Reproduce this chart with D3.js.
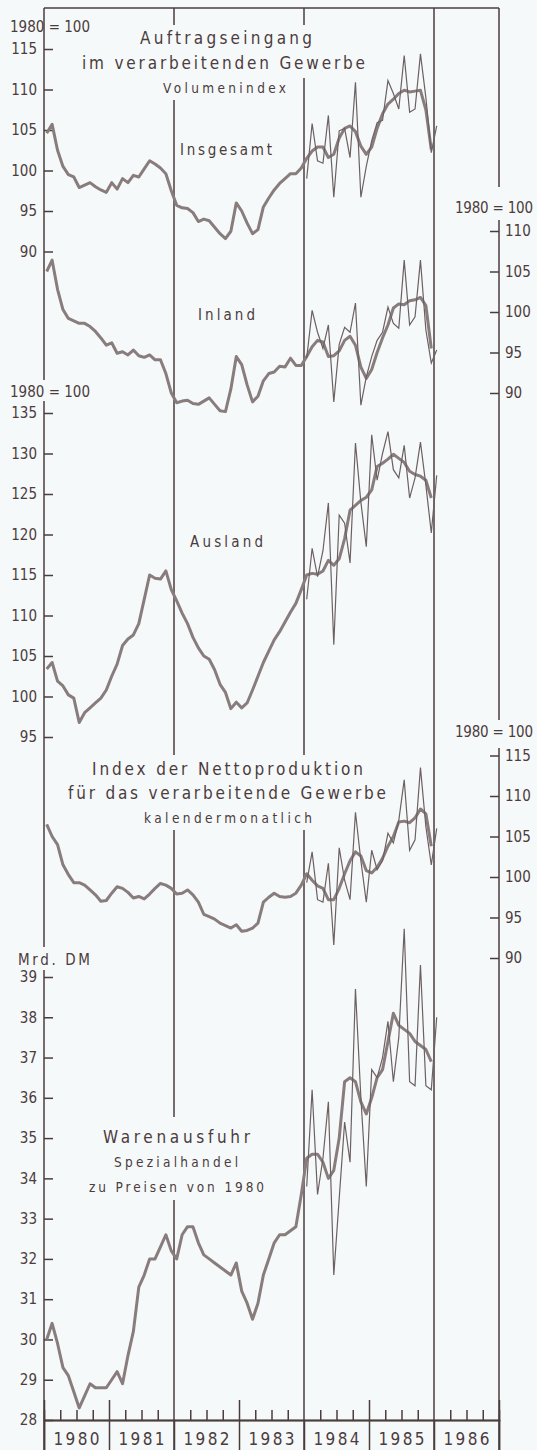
<!DOCTYPE html>
<html>
<head>
<meta charset="utf-8">
<script src="https://cdn.jsdelivr.net/npm/d3@7"></script>
<style>
  body { margin: 0; background: #f6f9f9; }
  svg { display: block; font-family: "DejaVu Sans Condensed", "DejaVu Sans", sans-serif; }
</style>
</head>
<body>
<svg id="chart" width="537" height="1450"></svg>
<script>
// Monthly values Jan 1980 - Dec 1985 (thick line) and Jan 1984 - Jan 1986 (thin line)
const years = [1980, 1981, 1982, 1983, 1984, 1985, 1986];

const insgesamt = [
  104.6, 105.7, 102.5, 100.5, 99.5, 99.2, 97.9, 98.2, 98.5, 98.0, 97.6, 97.3,
  98.5, 97.7, 99.0, 98.5, 99.4, 99.2, 100.2, 101.2, 100.8, 100.3, 99.6, 97.5,
  95.7, 95.4, 95.3, 94.8, 93.7, 94.0, 93.8, 93.0, 92.2, 91.6, 92.5, 96.0,
  95.0, 93.5, 92.2, 92.7, 95.5, 96.6, 97.6, 98.4, 99.0, 99.6, 99.6, 100.3,
  101.5, 102.4, 102.9, 102.9, 101.6, 102.0, 104.0, 105.2, 105.5, 104.8, 103.0, 102.0,
  102.9, 105.2, 107.0, 108.2, 108.8, 109.5, 109.9, 109.7, 109.8, 109.9, 107.5, 102.6
];
const insgesamtMonat = [
  99.0, 105.8, 101.2, 100.9, 106.8, 96.7, 104.9, 105.2, 101.6, 110.9, 96.7, 100.5,
  103.7, 105.9, 106.2, 111.1, 109.5, 107.6, 114.2, 107.2, 107.6, 114.4, 109.0, 102.2, 105.5
];

const inland = [
  105.0, 106.4, 102.8, 100.3, 99.2, 98.9, 98.6, 98.6, 98.2, 97.6, 96.8, 95.9,
  96.2, 94.9, 95.1, 94.7, 95.3, 94.6, 94.4, 94.7, 94.1, 94.1, 92.4, 90.0,
  88.8, 89.0, 89.1, 88.7, 88.6, 89.0, 89.4, 88.6, 87.8, 87.7, 90.5, 94.5,
  93.5, 91.0, 88.9, 89.6, 91.5, 92.4, 92.6, 93.3, 93.2, 94.3, 93.4, 93.4,
  94.5, 95.7, 96.5, 96.3, 94.5, 94.6, 95.2, 96.5, 97.0, 95.9, 93.2, 91.8,
  92.9, 95.0, 96.8, 98.4, 100.5, 101.0, 100.9, 101.4, 101.5, 101.8, 100.8, 95.5
];
const inlandMonat = [
  94.3, 100.2, 97.5, 95.5, 98.4, 88.9, 96.0, 98.1, 97.5, 101.1, 88.5, 92.0,
  94.5, 96.5, 97.5, 100.6, 98.6, 98.0, 106.4, 98.4, 99.4, 106.4, 97.8, 93.7, 95.3
];

const ausland = [
  103.4, 104.2, 101.9, 101.3, 100.2, 99.8, 96.8, 98.0, 98.6, 99.2, 99.8, 100.8,
  102.5, 104.0, 106.3, 107.1, 107.6, 109.0, 112.0, 115.0, 114.6, 114.5, 115.5, 113.2,
  111.8, 110.3, 109.0, 107.3, 106.0, 105.0, 104.6, 103.3, 101.5, 100.5, 98.5, 99.3,
  98.6, 99.2, 100.8, 102.5, 104.2, 105.6, 107.0, 108.0, 109.2, 110.4, 111.5, 113.2,
  115.0, 115.2, 115.1, 115.5, 116.8, 116.2, 117.0, 119.5, 123.0, 123.6, 124.2, 124.6,
  125.5, 128.4, 128.8, 129.3, 129.9, 129.4, 128.9, 127.8, 127.4, 127.2, 126.7, 124.5
];
const auslandMonat = [
  112.0, 118.3, 114.8, 118.0, 123.9, 106.4, 122.4, 121.4, 116.5, 131.3, 124.0, 118.5,
  132.3, 126.7, 130.0, 132.7, 128.0, 127.0, 131.0, 124.5, 127.0, 131.4, 126.1, 120.2, 127.3
];

const netto = [
  106.5, 105.0, 104.0, 101.5, 100.3, 99.3, 99.3, 99.0, 98.4, 97.8, 97.0, 97.1,
  98.0, 98.8, 98.6, 98.1, 97.4, 97.6, 97.3, 97.9, 98.6, 99.2, 99.0, 98.6,
  97.9, 98.0, 98.4, 97.8, 96.9, 95.4, 95.1, 94.8, 94.3, 94.0, 93.7, 94.1,
  93.3, 93.4, 93.7, 94.3, 96.9, 97.5, 98.0, 97.6, 97.5, 97.6, 98.0, 99.0,
  100.4, 99.6, 98.9, 98.6, 97.2, 97.2, 98.6, 100.4, 102.0, 103.1, 102.6, 100.8,
  100.5, 101.2, 102.3, 103.8, 105.0, 106.8, 106.9, 106.7, 107.3, 108.4, 107.8, 103.8
];
const nettoMonat = [
  99.3, 103.1, 97.2, 96.9, 101.7, 91.6, 103.6, 99.6, 97.2, 108.0, 102.0, 96.9,
  103.3, 100.9, 102.0, 105.4, 104.2, 107.0, 112.0, 103.3, 104.6, 113.5, 106.2, 101.5, 106.0
];

const ausfuhr = [
  30.0, 30.4, 29.9, 29.3, 29.1, 28.7, 28.3, 28.6, 28.9, 28.8, 28.8, 28.8,
  29.0, 29.2, 28.9, 29.6, 30.2, 31.3, 31.6, 32.0, 32.0, 32.3, 32.6, 32.2,
  32.0, 32.6, 32.8, 32.8, 32.4, 32.1, 32.0, 31.9, 31.8, 31.7, 31.6, 31.9,
  31.2, 30.9, 30.5, 30.9, 31.6, 32.0, 32.4, 32.6, 32.6, 32.7, 32.8, 33.6,
  34.5, 34.6, 34.6, 34.4, 34.0, 34.2, 35.0, 36.4, 36.5, 36.4, 35.9, 35.6,
  36.0, 36.5, 36.7, 37.4, 38.1, 37.8, 37.7, 37.6, 37.4, 37.3, 37.2, 36.9
];
const ausfuhrMonat = [
  33.8, 36.2, 33.6, 34.5, 35.9, 31.6, 33.5, 35.4, 34.4, 38.7, 36.0, 33.8,
  36.7, 36.5, 37.0, 37.9, 36.4, 37.5, 40.2, 36.4, 36.3, 39.3, 36.3, 36.2, 38.0
];

const indexTicks = [90, 95, 100, 105, 110, 115];
const inlandTicks = [90, 95, 100, 105, 110];
const auslandTicks = [95, 100, 105, 110, 115, 120, 125, 130, 135];
const ausfuhrTicks = [28, 29, 30, 31, 32, 33, 34, 35, 36, 37, 38, 39];

const ink = "#4b3c3e";
const lineThick = "#887c7d";
const lineThin = "#6c6062";

const svg = d3.select("#chart");
const x = d3.scaleLinear().domain([1980, 1987]).range([44, 499]);
const mx = i => x(1980 + (i + 0.5) / 12);

const panels = [
  { thick: insgesamt, thin: insgesamtMonat, side: "left", ticks: indexTicks,
    y: d3.scaleLinear().domain([90, 115]).range([251.5, 49]) },
  { thick: inland, thin: inlandMonat, side: "right", ticks: inlandTicks,
    y: d3.scaleLinear().domain([90, 110]).range([393, 231]) },
  { thick: ausland, thin: auslandMonat, side: "left", ticks: auslandTicks,
    y: d3.scaleLinear().domain([95, 135]).range([737, 413]) },
  { thick: netto, thin: nettoMonat, side: "right", ticks: indexTicks,
    y: d3.scaleLinear().domain([90, 115]).range([958, 755.5]) },
  { thick: ausfuhr, thin: ausfuhrMonat, side: "left", ticks: ausfuhrTicks,
    y: d3.scaleLinear().domain([28, 39]).range([1420, 977]) }
];

// frame lines (with gaps where the headings sit)
const vline = (xv, segs) => segs.forEach(([a, b]) =>
  svg.append("line").attr("x1", xv).attr("x2", xv).attr("y1", a).attr("y2", b)
    .attr("stroke", ink).attr("stroke-width", 1.5));

svg.append("line").attr("x1", x(1980)).attr("x2", x(1987)).attr("y1", 8).attr("y2", 8)
  .attr("stroke", ink).attr("stroke-width", 1.5);
vline(x(1980), [[8, 380], [401, 947], [970, 1450]]);
vline(x(1982), [[8, 25], [100, 755], [830, 1117], [1200, 1450]]);
vline(x(1984), [[8, 25], [78, 755], [830, 1450]]);
vline(x(1986), [[8, 1450]]);
vline(x(1987), [[8, 187], [220, 720], [748, 1450]]);

// axes per panel
panels.forEach(p => {
  const ax = p.side === "left"
    ? d3.axisLeft(p.y).tickValues(p.ticks).tickSizeInner(-9).tickSizeOuter(0).tickPadding(7)
    : d3.axisRight(p.y).tickValues(p.ticks).tickSizeInner(-9).tickSizeOuter(0).tickPadding(6);
  const g = svg.append("g")
    .attr("transform", `translate(${p.side === "left" ? x(1980) : x(1987)},0)`)
    .call(ax);
  g.select(".domain").remove();
  g.selectAll("line").attr("stroke", ink).attr("stroke-width", 1.5);
  g.selectAll("text").attr("fill", ink).style("font-size", "15px")
    .style("font-family", "DejaVu Sans Condensed");
});

// series
panels.forEach(p => {
  svg.append("path").datum(p.thick)
    .attr("d", d3.line().x((d, i) => mx(i)).y(d => p.y(d)))
    .attr("fill", "none").attr("stroke", lineThick).attr("stroke-width", 3)
    .attr("stroke-linejoin", "round");
  svg.append("path").datum(p.thin)
    .attr("d", d3.line().x((d, i) => mx(i + 48)).y(d => p.y(d)))
    .attr("fill", "none").attr("stroke", lineThin).attr("stroke-width", 1.2)
    .attr("stroke-linejoin", "miter");
});

// bottom time axis
const quarters = [];
years.forEach(yr => [0.25, 0.5, 0.75].forEach(q => quarters.push(yr + q)));
const base = svg.append("g").attr("transform", "translate(0,1420)");
base.append("g").call(d3.axisTop(x).tickValues(quarters).tickSize(10).tickFormat(""));
base.append("g").call(d3.axisTop(x).tickValues([1981, 1983, 1985]).tickSize(20).tickFormat(""));
base.append("g").call(d3.axisBottom(x).tickValues(years.concat([1987])).tickSize(30).tickFormat(""));
base.selectAll("line").attr("stroke", ink).attr("stroke-width", 1.5);
base.selectAll(".domain").attr("stroke", ink).attr("stroke-width", 1.5);
base.selectAll("text.year").data(years).enter().append("text")
  .attr("x", d => x(d + 0.5)).attr("y", 25)
  .attr("text-anchor", "middle").attr("fill", ink)
  .style("font-size", "17px").attr("textLength", 46).attr("lengthAdjust", "spacing")
  .text(d => d);

// labels
const labels = [
  { t: "Auftragseingang", cx: 226, y: 44, s: 17, w: 172 },
  { t: "im verarbeitenden Gewerbe", cx: 223.5, y: 69, s: 17, w: 283 },
  { t: "Volumenindex", cx: 224.5, y: 93, s: 13.5, w: 123 },
  { t: "Insgesamt", cx: 226, y: 155, s: 15, w: 92 },
  { t: "Inland", cx: 226.5, y: 320, s: 15, w: 57 },
  { t: "Ausland", cx: 226.5, y: 547, s: 15, w: 73 },
  { t: "Index der Nettoproduktion", cx: 227.5, y: 775, s: 17, w: 271 },
  { t: "für das verarbeitende Gewerbe", cx: 227, y: 799, s: 17, w: 318 },
  { t: "kalendermonatlich", cx: 228, y: 823, s: 13.5, w: 168 },
  { t: "Warenausfuhr", cx: 176.5, y: 1143, s: 17, w: 147 },
  { t: "Spezialhandel", cx: 176, y: 1167, s: 13.5, w: 124 },
  { t: "zu Preisen von 1980", cx: 176.5, y: 1192, s: 13.5, w: 175 },
  { t: "1980 = 100", cx: 50, y: 32, s: 15, w: 80 },
  { t: "1980 = 100", cx: 50, y: 397, s: 15, w: 80 },
  { t: "1980 = 100", cx: 494, y: 213, s: 15, w: 78 },
  { t: "1980 = 100", cx: 494, y: 737, s: 15, w: 78 },
  { t: "Mrd. DM", cx: 54, y: 965, s: 15, w: 72 }
];
svg.selectAll("text.lbl").data(labels).enter().append("text")
  .attr("class", "lbl")
  .attr("x", d => d.cx).attr("y", d => d.y)
  .attr("text-anchor", "middle").attr("fill", ink)
  .style("font-size", d => d.s + "px")
  .attr("textLength", d => d.w).attr("lengthAdjust", "spacing")
  .text(d => d.t);
</script>
</body>
</html>
